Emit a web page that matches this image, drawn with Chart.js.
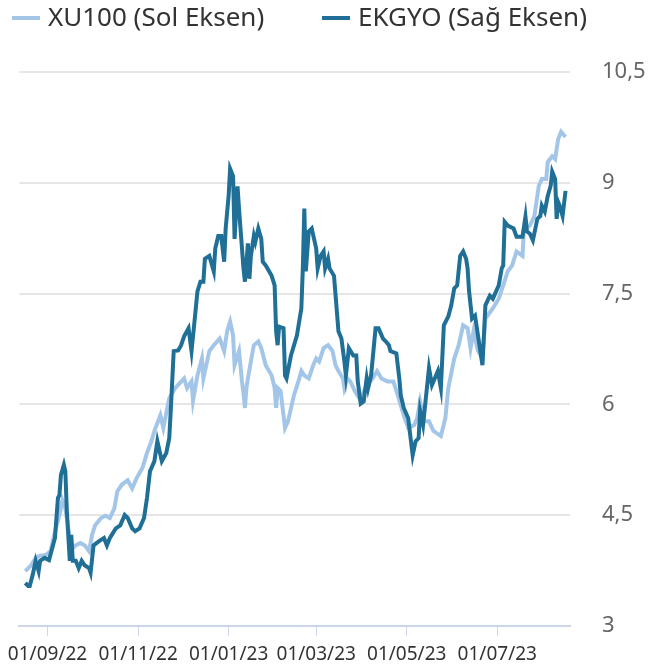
<!DOCTYPE html>
<html>
<head>
<meta charset="utf-8">
<script src="https://cdn.jsdelivr.net/npm/chart.js@4"></script>
<style>
  body { margin: 0; background: #fff; font-family: "Noto Sans", sans-serif; }
  .wrap { position: relative; width: 661px; height: 671px; }
  #legend { position: absolute; left: 0; top: 0; height: 34px; width: 661px; }
  #legend .item { position: absolute; top: 0; line-height: 33px; font-size: 26px; color: #333; white-space: nowrap; }
  #legend .item i { display: inline-block; width: 28px; height: 4px; vertical-align: middle; margin-right: 8px; position: relative; top: -1px; }
</style>
</head>
<body>
<div class="wrap">
  <div id="legend">
    <span class="item" style="left:12px"><i style="background:#a3c6e8"></i>XU100 (Sol Eksen)</span>
    <span class="item" style="left:322px"><i style="background:#1f6f96"></i>EKGYO (Sağ Eksen)</span>
  </div>
  <canvas id="myChart"></canvas>
</div>
<script>
// days counted from 01/09/22
var xu100Days = [-15,-11,-8,-5,-1,2,5,7,9,10,12,15,17,19,22,25,28,30,32,36,39,42,45,47,50,54,57,60,64,67,70,72,76,78,82,86,92,94,97,98,101,104,105,109,112,116,119,121,123,125,126,129,131,132,133,134,135,137,139,142,144,147,151,153,154,155,157,160,162,166,169,171,173,176,179,181,183,186,189,192,194,196,199,200,202,204,207,210,212,215,219,222,225,229,233,236,240,243,247,249,251,254,257,260,265,268,270,274,277,280,283,285,287,290,293,295,300,304,307,310,313,316,320,321,325,328,331,333,336,337,340,342,344,346,349]
var xu100Values = [3.74,3.82,3.92,3.95,3.96,4.01,4.28,4.42,4.59,4.70,4.59,4.19,4.05,4.09,4.12,4.09,4.01,4.23,4.36,4.46,4.49,4.46,4.59,4.82,4.91,4.97,4.86,5.00,5.14,5.34,5.50,5.64,5.85,5.68,6.08,6.22,6.35,6.22,6.31,6.05,6.39,6.62,6.35,6.72,6.80,6.89,6.72,6.99,7.12,6.93,6.53,6.72,6.31,6.15,5.95,6.22,6.35,6.58,6.80,6.85,6.76,6.53,6.39,6.22,5.95,6.22,6.18,5.68,5.77,6.12,6.31,6.45,6.39,6.35,6.53,6.62,6.58,6.76,6.80,6.72,6.53,6.45,6.35,6.22,6.35,6.31,6.18,6.08,6.12,6.26,6.35,6.45,6.35,6.31,6.31,6.12,5.85,5.68,5.72,5.81,6.04,5.77,5.77,5.64,5.57,5.81,6.22,6.62,6.80,7.07,7.03,6.76,6.99,6.72,6.62,7.16,7.30,7.43,7.61,7.80,7.88,8.07,8.01,8.38,8.42,8.55,8.96,9.05,9.05,9.28,9.36,9.32,9.59,9.69,9.62]

var ekgyoDays = [-15,-13,-12,-10,-8,-6,-5,-2,1,5,7,8,9,11,12,13,15,16,17,19,21,23,25,28,29,31,35,38,40,42,46,49,52,54,57,59,62,65,67,69,72,74,77,80,82,83,85,88,90,92,95,97,99,101,103,105,106,109,112,113,115,117,119,120,122,123,125,126,128,129,132,133,135,136,137,139,140,142,144,145,147,151,153,154,155,156,159,160,161,164,168,171,172,173,174,176,178,180,181,182,184,186,187,189,190,193,196,198,200,201,203,206,208,209,211,213,215,216,218,221,223,226,228,230,231,235,237,238,240,243,244,246,248,250,251,253,257,259,263,265,267,270,272,274,276,278,280,282,283,284,286,288,290,293,295,298,300,304,306,307,308,310,314,316,320,322,323,325,327,330,332,333,335,337,339,340,342,343,344,345,347,349]
var ekgyoValues = [3.58,3.54,3.54,3.69,3.88,3.74,3.88,3.92,3.89,4.19,4.73,4.77,5.04,5.18,5.09,4.55,3.88,4.23,3.88,3.88,3.78,3.88,3.82,3.78,3.72,4.09,4.15,4.19,4.09,4.19,4.32,4.36,4.50,4.46,4.32,4.28,4.32,4.46,4.73,5.09,5.23,5.50,5.23,5.34,5.54,5.91,6.72,6.73,6.80,6.92,7.03,6.72,7.12,7.53,7.66,7.66,7.97,8.01,7.80,8.11,8.28,8.28,7.93,8.38,8.82,9.19,9.09,8.24,8.95,8.65,7.84,7.66,8.18,7.70,8.01,8.28,8.20,8.38,8.24,7.93,7.88,7.74,7.61,6.99,6.80,7.05,7.03,6.39,6.35,6.66,6.93,7.30,7.84,8.65,7.80,8.34,8.38,8.20,8.11,7.84,8.01,8.07,7.84,7.97,7.84,7.74,6.99,6.89,6.58,6.39,6.76,6.66,6.66,6.31,6.01,6.04,6.35,6.22,6.39,7.03,7.03,6.89,6.85,6.80,6.72,6.69,6.35,6.12,5.95,5.81,5.64,5.31,5.50,5.54,5.91,5.72,6.49,6.26,6.45,6.22,7.07,7.19,7.34,7.57,7.61,8.01,8.07,7.97,7.84,7.53,7.16,7.20,6.93,6.53,7.34,7.47,7.43,7.61,7.84,7.88,8.47,8.42,8.38,8.27,8.27,8.54,8.34,8.31,8.22,8.51,8.55,8.69,8.61,8.82,8.96,9.15,9.05,8.51,8.74,8.69,8.55,8.89]

var tickDays = [0, 61, 122, 181, 242, 303]
var tickLabels = ["01/09/22", "01/11/22", "01/01/23", "01/03/23", "01/05/23", "01/07/23"]
var yTicks = [3, 4.5, 6, 7.5, 9, 10.5]

function toPoints(days, values) {
    return days.map((d, i) => ({ x: d, y: values[i] }))
}

var chartField = document.querySelector("#myChart").getContext("2d")

var myChart = new Chart(chartField, {
    type: "line",
    data: {
        datasets: [{
            label: "XU100 (Sol Eksen)",
            data: toPoints(xu100Days, xu100Values),
            borderColor: "#a3c6e8",
            borderWidth: 4,
            pointRadius: 0,
            tension: 0,
            yAxisID: "y1",
            order: 2
        }, {
            label: "EKGYO (Sağ Eksen)",
            data: toPoints(ekgyoDays, ekgyoValues),
            borderColor: "#1f6f96",
            borderWidth: 4,
            pointRadius: 0,
            tension: 0,
            yAxisID: "y",
            order: 1
        }]
    },
    options: {
        responsive: true,
        maintainAspectRatio: false,
        animation: false,
        layout: { padding: { top: 72, left: 17, right: 0, bottom: 0 } },
        plugins: { legend: { display: false }, tooltip: { enabled: false } },
        scales: {
            x: {
                type: "linear",
                min: -19,
                max: 352,
                afterBuildTicks: (axis) => { axis.ticks = tickDays.map(v => ({ value: v })) },
                afterFit: (axis) => { axis.height = 43 },
                grid: { drawOnChartArea: false, drawTicks: true, tickLength: 10, color: "#ccd6eb", lineWidth: 1 },
                border: { color: "#ccd6eb", width: 2 },
                ticks: {
                    autoSkip: false,
                    maxRotation: 0,
                    padding: 7,
                    color: "#333",
                    font: { family: "Noto Sans", size: 19 },
                    callback: (v) => tickLabels[tickDays.indexOf(v)]
                }
            },
            y: {
                position: "right",
                min: 3,
                max: 10.5,
                afterBuildTicks: (axis) => { axis.ticks = yTicks.map(v => ({ value: v })) },
                afterFit: (axis) => { axis.width = 91 },
                grid: { color: "#e6e6e6", lineWidth: 2, drawTicks: false },
                border: { display: false },
                ticks: {
                    padding: 32,
                    color: "#666",
                    font: { family: "Noto Sans", size: 22 },
                    callback: (v) => String(v).replace(".", ",")
                }
            },
            y1: {
                display: false,
                position: "left",
                min: 3,
                max: 10.5
            }
        }
    }
});
</script>
</body>
</html>
